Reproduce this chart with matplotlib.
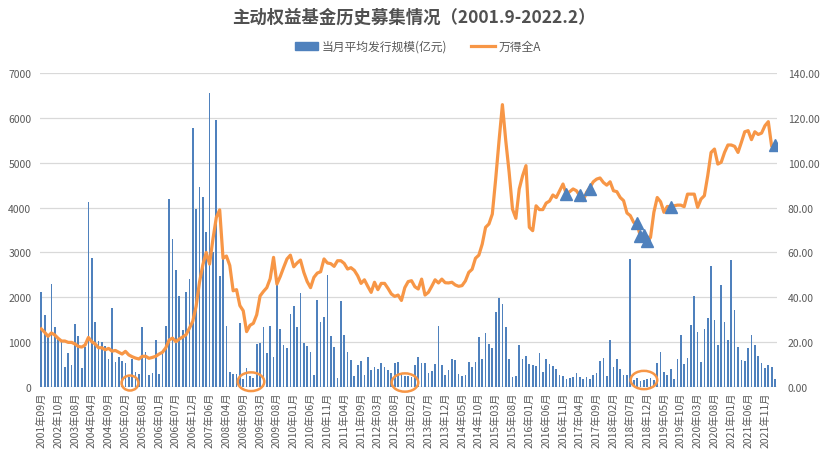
import matplotlib
matplotlib.use("Agg")
import matplotlib.pyplot as plt
from matplotlib.patches import Ellipse, Patch
from matplotlib.lines import Line2D

plt.rcParams['font.family'] = ['Noto Sans CJK SC', 'DejaVu Sans']

# =========================
# DATA
# =========================
START = (2001, 9)
END = (2022, 2)
# months with no new active equity funds (not shown on the category axis)
MISSING_MONTHS = [
    "2001-11", "2002-01", "2002-02", "2002-03", "2002-05", "2002-06", "2002-07", "2002-09",
    "2002-11", "2003-01", "2003-02", "2003-04", "2003-07",
    "2003-09", "2003-11", "2004-01",
    "2005-04", "2006-02", "2007-02",
    "2007-07", "2007-11", "2007-12", "2008-01", "2008-02",
    "2008-11", "2012-01", "2013-01",
]

# 当月平均发行规模(亿元)
ISSUE_SIZE = [
    2120, 1605, 1150, 2300, 1345, 1070, 1000, 446, 758, 498,
    1404, 1144, 423, 900, 4130, 2875, 1449, 1025, 1003, 914,
    624, 1761, 557, 676, 580, 535, 215, 624, 327, 290,
    1337, 780, 267, 312, 1048, 290, 735, 1360, 4190, 3299,
    2608, 2028, 1270, 2117, 2407, 5773, 3967, 4465, 4242, 3455,
    6553, 3000, 5951, 2474, 2900, 1367, 327, 290, 290, 1426,
    178, 423, 250, 193, 958, 980, 1345, 758, 1360, 676,
    2273, 1293, 944, 869, 1627, 1813, 1345, 2095, 980, 914,
    780, 275, 1939, 1449, 1560, 2496, 1137, 892, 200, 1917,
    1159, 780, 602, 245, 490, 580, 267, 669, 379, 446,
    401, 535, 446, 379, 312, 535, 557, 290, 250, 250,
    215, 490, 669, 535, 535, 312, 357, 513, 1360, 490,
    267, 379, 624, 602, 290, 245, 267, 557, 446, 557,
    1114, 624, 1204, 958, 869, 1672, 1984, 1850, 1337, 624,
    223, 245, 936, 624, 691, 513, 490, 468, 758, 334,
    624, 513, 468, 401, 267, 245, 178, 200, 223, 312,
    223, 178, 223, 178, 267, 312, 580, 646, 245, 1048,
    446, 624, 401, 267, 267, 2853, 150, 200, 134, 156,
    178, 200, 156, 535, 780, 334, 267, 401, 178, 624,
    1159, 513, 646, 1382, 2028, 1226, 557, 1293, 1538, 2697,
    1493, 936, 2273, 1449, 1048, 2831, 1716, 892, 602, 580,
    869, 1159, 936, 691, 535, 423, 490, 446, 178,
]

# 万得全A (right axis)
WIND_ALL_A = [
    25.9, 24.4, 22.6, 24.1, 23.2, 21.7, 20.5, 20.5, 19.9, 19.9,
    19.2, 18.1, 17.8, 18.7, 22.1, 20.2, 19.2, 17.5, 17.5, 16.6,
    17.2, 16.0, 16.3, 15.5, 14.7, 15.9, 14.3, 13.5, 12.9, 12.5,
    13.7, 13.7, 12.8, 13.2, 13.7, 14.7, 15.5, 17.5, 21.0, 21.8,
    20.2, 21.4, 22.3, 23.3, 26.2, 29.3, 36.0, 46.7, 54.5, 60.0,
    54.8, 66.0, 75.6, 79.0, 57.4, 58.4, 54.2, 42.9, 43.4, 36.3,
    34.0, 24.7, 27.5, 28.4, 32.2, 40.6, 42.6, 44.3, 48.3, 57.8,
    45.9, 49.3, 53.3, 57.1, 58.8, 53.6, 55.3, 56.6, 51.1, 47.0,
    44.3, 48.9, 50.8, 51.4, 57.1, 55.3, 55.0, 53.8, 56.3, 56.3,
    55.1, 52.6, 53.2, 52.0, 49.6, 46.2, 47.8, 44.9, 42.2, 46.7,
    43.4, 46.2, 46.2, 44.0, 41.5, 40.4, 41.0, 38.6, 44.3, 47.0,
    47.4, 44.7, 43.7, 48.1, 41.0, 42.2, 44.9, 47.8, 46.4, 48.1,
    46.5, 46.4, 46.7, 45.5, 44.9, 45.2, 47.3, 51.1, 52.5, 57.4,
    58.8, 63.7, 71.2, 72.7, 77.1, 92.7, 109.8, 125.9, 109.8, 95.7,
    79.3, 75.2, 88.3, 94.2, 98.7, 71.2, 69.7, 80.8, 79.1, 79.1,
    82.0, 82.9, 85.6, 84.5, 87.5, 90.5, 86.0, 87.1, 88.3, 87.5,
    85.3, 83.1, 86.8, 89.0, 91.5, 92.7, 93.2, 91.2, 90.0, 91.5,
    87.5, 87.1, 84.5, 83.1, 77.6, 76.4, 73.4, 72.7, 67.2, 65.2,
    64.8, 66.7, 77.9, 84.5, 82.6, 77.9, 80.5, 80.4, 80.8, 81.1,
    81.1, 80.4, 86.0, 86.0, 86.0, 80.1, 83.8, 85.3, 94.2, 104.6,
    106.1, 99.4, 100.2, 104.6, 107.9, 107.9, 107.3, 104.6, 109.1, 113.8,
    114.3, 110.3, 113.8, 112.6, 113.2, 116.5, 118.3, 107.3, 107.9,
]

# highlighted points (blue triangles)
MARKER_IDX = [156, 160, 163, 177, 178, 179, 180, 187, 218]
MARKER_VAL = [86.0, 85.6, 88.3, 73.1, 67.2, 67.8, 65.2, 80.4, 107.9]

# orange circles around the issuance troughs: (category centre, width in categories)
TROUGH_X = [26.35, 62.3, 108.05, 179.05]
TROUGH_W = [5.0, 7.9, 7.9, 7.9]
TROUGH_Y = [89, 118, 100, 156]
TROUGH_H = [334, 417, 408, 408]

BLUE = "#4f81bd"
ORANGE = "#f79646"
GREY = "#595959"


def build_months():
    labels = []
    y, m = START
    while (y, m) <= END:
        if f"{y}-{m:02d}" not in MISSING_MONTHS:
            labels.append(f"{y}年{m:02d}月")
        m += 1
        if m > 12:
            y, m = y + 1, 1
    return labels


months = build_months()
x = list(range(len(months)))

fig = plt.figure(figsize=(8.27, 4.60), dpi=100)
ax = fig.add_axes([0.0479, 0.1565, 0.8913, 0.6826])
ax2 = ax.twinx()

ax.bar(x, ISSUE_SIZE, width=0.5, color=BLUE, zorder=2)
ax2.plot(x, WIND_ALL_A, color=ORANGE, lw=2.3, zorder=3, solid_joinstyle="round")
ax2.plot(MARKER_IDX, MARKER_VAL, ls="none", marker="^", ms=8, color=BLUE, zorder=4)

for cx, w, cy, h in zip(TROUGH_X, TROUGH_W, TROUGH_Y, TROUGH_H):
    ax.add_patch(Ellipse((cx, cy), w, h, fill=False, ec=ORANGE, lw=1.8,
                         clip_on=False, zorder=5))

ax.set_xlim(-0.5, len(months) - 0.5)
ax.set_ylim(0, 7000)
ax2.set_ylim(0, 140)
ax.set_yticks(range(0, 7001, 1000))
ax2.set_yticks(range(0, 141, 20))
ax2.set_yticklabels([f"{v:.2f}" for v in range(0, 141, 20)])

ax.set_xticks(x[::5])
ax.set_xticklabels(months[::5], rotation=90, fontsize=7.5, color=GREY)

ax.grid(axis="y", color="#d9d9d9", lw=0.9, zorder=0)
ax.set_axisbelow(True)
for a in (ax, ax2):
    for side in ("top", "left", "right"):
        a.spines[side].set_visible(False)
    a.spines["bottom"].set_visible(False)
    a.tick_params(length=0, labelsize=7.5, labelcolor=GREY)
ax.axhline(0, color="#bfbfbf", lw=0.9, zorder=1)
ax.tick_params(axis="x", pad=3)
ax.tick_params(axis="y", pad=6)
ax2.tick_params(axis="y", pad=8)

fig.text(0.5, 0.962, "主动权益基金历史募集情况（2001.9-2022.2）", ha="center", va="center",
         fontsize=12.5, fontweight="bold", color="#505050")

handles = [Patch(color=BLUE), Line2D([], [], color=ORANGE, lw=2.3)]
fig.legend(handles, ["当月平均发行规模(亿元)", "万得全A"], loc="center",
           bbox_to_anchor=(0.505, 0.897), ncol=2, frameon=False, fontsize=8.5,
           labelcolor=GREY, handlelength=2.0, handleheight=0.7, columnspacing=2.0,
           handletextpad=0.3)

fig.savefig("out.png", dpi=100)
